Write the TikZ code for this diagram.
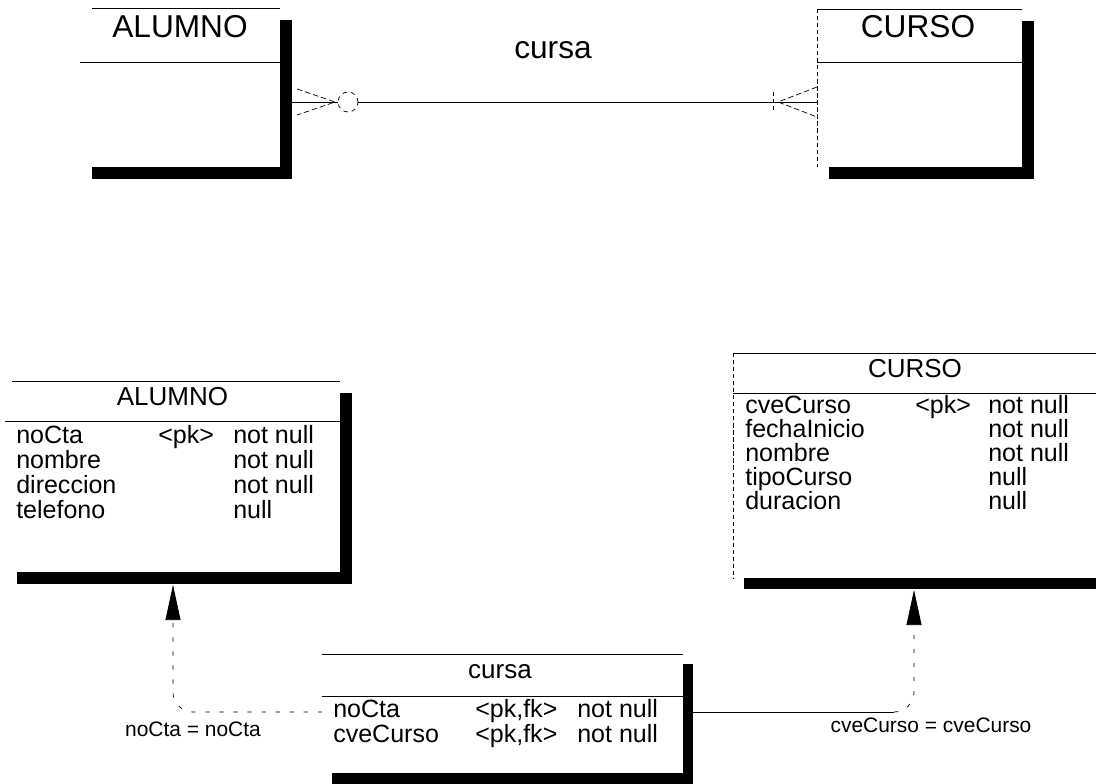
\documentclass[tikz,border=0pt]{standalone}
\usepackage{fontspec}
\setmainfont{Liberation Sans}
\usetikzlibrary{arrows.meta,calc,positioning}
\tikzset{
  shadowbar/.style={fill=black},
  boxline/.style={draw=black,line width=0.5pt},
  edgeline/.style={draw=black,line width=0.4pt,dash pattern=on 3pt off 2pt},
  footline/.style={draw=black,line width=0.5pt,dash pattern=on 4pt off 2pt},
  fkline/.style={draw=black,line width=0.5pt},
  fkdash/.style={fkline,dash pattern=on 3pt off 7pt},
  bigtitle/.style={font=\fontsize{22.5}{26}\selectfont,anchor=base},
  tabtitle/.style={font=\fontsize{18.5}{22}\selectfont,anchor=base},
  cell/.style={anchor=base west,inner sep=0pt},
  joinlabel/.style={font=\fontsize{14.9}{18}\selectfont,anchor=base}
}

\begin{document}
\begin{tikzpicture}[x=1cm,y=1cm,>={Triangle[length=0.875cm,width=0.375cm]},every node/.style={font=\fontsize{17.8}{21}\selectfont}]
  \useasboundingbox (0,0) rectangle (27.4,-19.575);

  % conceptual model
  \fill[shadowbar] (2.3,-0.5) rectangle (7.3,-4.475);
  \fill[white] (2.0,-0.2) rectangle (7.0,-4.175);
  \draw[boxline] (2.3,-0.2) -- (7.0,-0.2) (2.0,-1.55) -- (7.0,-1.55);
  \node[bigtitle] (alumnoE) at (4.5,-0.95) {ALUMNO};
  \coordinate (alumnoEside) at (7.3,-2.55);

  \fill[shadowbar] (20.725,-0.525) rectangle (25.85,-4.475);
  \fill[white] (20.425,-0.225) rectangle (25.55,-4.175);
  \draw[boxline] (20.425,-0.225) -- (25.55,-0.225) (20.425,-1.55) -- (25.55,-1.55);
  \draw[edgeline] (20.425,-0.225) -- (20.425,-4.175);
  \node[bigtitle] (cursoE) at (22.95,-0.95) {CURSO};
  \coordinate (cursoEside) at (20.425,-2.55);

  \node[bigtitle] (cursaRel) at (13.825,-1.475) {cursa};
  \node[circle,draw,line width=0.5pt,dash pattern=on 3pt off 3pt,minimum size=0.5cm,inner sep=0pt] (optMark) at (8.7,-2.55) {};
  \draw[boxline] (alumnoEside) -- (optMark.west);
  \draw[boxline] (optMark.east) -- (cursoEside);
  \draw[footline] (7.425,-2.225) -- (8.375,-2.55) -- (7.425,-2.875);
  \draw[footline] (20.425,-2.175) -- (19.45,-2.55) -- (20.425,-2.925);
  \draw[edgeline] (19.325,-2.3) -- (19.325,-2.8);

  % physical model
  \fill[shadowbar] (0.425,-9.825) rectangle (8.8,-14.6);
  \fill[white] (0.125,-9.525) rectangle (8.5,-14.3);
  \draw[boxline] (0.3,-9.525) -- (8.5,-9.525) (0.125,-10.525) -- (8.5,-10.525);
  \node[tabtitle] (alumnoT) at (4.3125,-10.125) {ALUMNO};
  \foreach \attr/\key/\nul [count=\i from 0] in {noCta/<pk>/not null,nombre//not null,direccion//not null,telefono//null} {
    \node[cell] (alumnoA\i) at (0.4,{-11.075-0.625*\i}) {\attr};
    \node[cell] (alumnoK\i) at (3.95,{-11.075-0.625*\i}) {\key};
    \node[cell] (alumnoN\i) at (5.825,{-11.075-0.625*\i}) {\nul};
  }
  \coordinate (alumnoTip) at (4.325,-14.625);

  \fill[shadowbar] (18.6,-9.1) rectangle (27.7,-14.725);
  \fill[white] (18.325,-8.825) rectangle (27.425,-14.45);
  \draw[boxline] (18.325,-8.825) -- (27.425,-8.825) (18.325,-9.825) -- (27.425,-9.825);
  \draw[edgeline] (18.325,-8.825) -- (18.325,-14.45);
  \node[tabtitle] (cursoT) at (22.875,-9.425) {CURSO};
  \foreach \attr/\key/\nul [count=\i from 0] in {cveCurso/<pk>/not null,fechaInicio//not null,nombre//not null,tipoCurso//null,duracion//null} {
    \node[cell] (cursoA\i) at (18.625,{-10.325-0.606*\i}) {\attr};
    \node[cell] (cursoK\i) at (22.875,{-10.325-0.606*\i}) {\key};
    \node[cell] (cursoN\i) at (24.7,{-10.325-0.606*\i}) {\nul};
  }
  \coordinate (cursoTip) at (22.85,-14.75);

  \fill[shadowbar] (8.3,-16.6) rectangle (17.325,-19.6);
  \fill[white] (8.05,-16.35) rectangle (17.075,-19.325);
  \draw[boxline] (8.05,-16.35) -- (17.075,-16.35) (8.05,-17.4) -- (17.075,-17.4);
  \node[tabtitle] (cursaT) at (12.5,-16.95) {cursa};
  \node[cell] (cursaA0) at (8.325,-17.925) {noCta};
  \node[cell] (cursaK0) at (11.875,-17.925) {<pk,fk>};
  \node[cell] (cursaN0) at (14.425,-17.925) {not null};
  \node[cell] (cursaA1) at (8.325,-18.55) {cveCurso};
  \node[cell] (cursaK1) at (11.875,-18.55) {<pk,fk>};
  \node[cell] (cursaN1) at (14.425,-18.55) {not null};
  \coordinate (cursaW) at (8.05,-17.8);
  \coordinate (cursaE) at (17.325,-17.8);

  % references
  \draw[fkdash,->,rounded corners=0.5cm] (cursaW) -| (alumnoTip);
  \node[joinlabel] (noCtaJoin) at (4.825,-18.4) {noCta = noCta};

  \coordinate (cveJoin) at (22.35,-17.8);
  \coordinate (cveBend) at (22.85,-17.3);
  \draw[fkline] (cursaE) -- (cveJoin);
  \draw[fkdash,->] (cveJoin) to[out=0,in=-90] (cveBend) -- (cursoTip);
  \node[joinlabel] (cveJoinLabel) at (23.275,-18.3) {cveCurso = cveCurso};
\end{tikzpicture}
\end{document}
